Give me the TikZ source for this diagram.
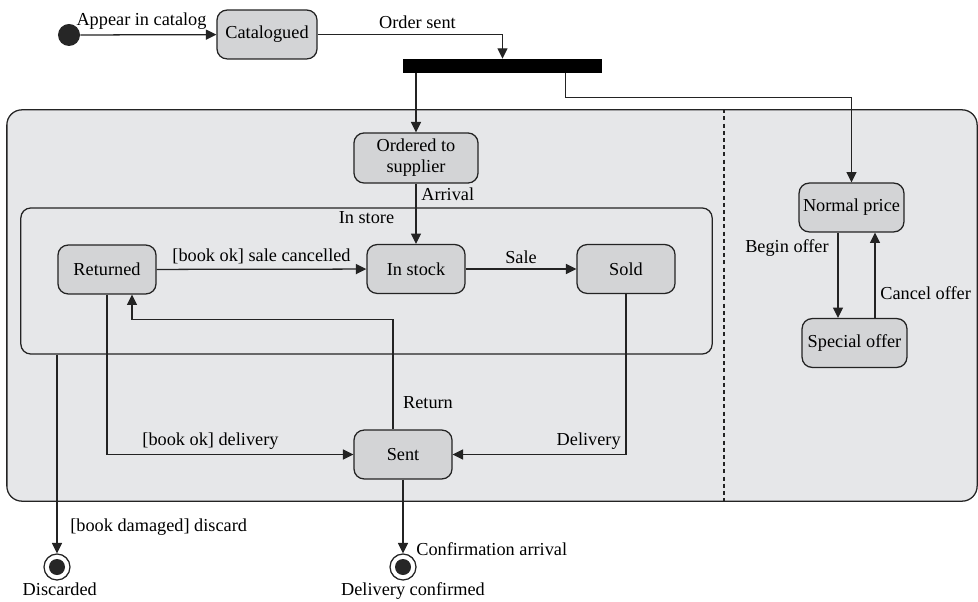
\documentclass[tikz,border=0pt]{standalone}
\usepackage{fontspec}
\setmainfont{Liberation Serif}
\usepackage{xcolor}
\usepackage{tikz}
\usetikzlibrary{arrows.meta, positioning, calc}

\definecolor{statefill}{RGB}{211,212,214}
\definecolor{regionfill}{RGB}{230,231,233}
\definecolor{linegray}{RGB}{35,35,35}

\begin{document}
\begin{tikzpicture}[
        x=0.025cm, y=-0.025cm,
        font=\fontsize{13}{15}\selectfont,
        state/.style={rectangle, rounded corners=0.25cm, draw=linegray, line width=0.9pt, fill=statefill, minimum width=2.45cm, minimum height=1.22cm, inner sep=1pt, align=center},
        region/.style={rectangle, draw=linegray, line width=0.9pt, inner sep=0pt},
        trans/.style={-{Triangle[length=2.6mm, width=2.5mm]}, draw=linegray, line width=0.9pt},
        initial/.style={circle, fill=black!85, minimum size=0.55cm, inner sep=0pt},
        final/.style={circle, draw=linegray, line width=0.9pt, fill=white, minimum size=0.65cm, inner sep=0pt,
            path picture={\fill[black!85] (path picture bounding box.center) circle (0.2cm);}},
        forkbar/.style={rectangle, fill=black, minimum width=4.98cm, minimum height=0.35cm, inner sep=0pt}
    ]
        \useasboundingbox (0,0) rectangle (978,602);

        % Regions
        \node[region, fill=regionfill, rounded corners=0.375cm, minimum width=24.25cm, minimum height=9.78cm] (order) at (492,305.5) {};
        \node[region, rounded corners=0.25cm, minimum width=17.28cm, minimum height=3.65cm,
            label={[anchor=north, inner sep=3pt]north:In store}] (store) at (366.5,281) {};
        \coordinate (split) at (724,0);
        \draw[linegray, line width=0.9pt, dash pattern=on 1mm off 0.8mm] (order.north -| split) -- (order.south -| split);

        % States
        \node[initial] (init) at (69,35) {};
        \node[state, minimum width=2.5cm] (cat) at (267,34.5) {Catalogued};
        \node[forkbar] (fork) at (502.5,66) {};
        \node[state, minimum width=3.1cm, minimum height=1.25cm] (ord) at (416,158) {Ordered to\\supplier};
        \node[state] (ret) at (107,269.5) {Returned};
        \node[state] (stock) at (416,269) {In stock};
        \node[state] (sold) at (626,269) {Sold};
        \node[state] (sent) at (403,454.5) {Sent};
        \node[state, minimum width=2.62cm] (norm) at (851.5,207.5) {Normal price};
        \node[state, minimum width=2.62cm] (spec) at (854.5,343) {Special offer};
        \node[final] (disc) at (57,567) {};
        \node[final] (conf) at (403,567) {};
        \node[below=0pt of disc, inner sep=1pt, xshift=0.07cm] (disclbl) {Discarded};
        \node[below=0pt of conf, inner sep=1pt, xshift=0.25cm] (conflbl) {Delivery confirmed};

        % Transitions
        \draw[trans] (init) -- node[pos=0.45, above] {Appear in catalog} (cat);
        \draw[trans] (cat) -| node[pos=0.27, above] {Order sent} (fork);
        \draw[trans] (fork.south -| ord.north) -- (ord);
        \draw[trans] ($(fork.south east)+(-37,0)$) |- ($(norm.north)+(0,-85)$) -- (norm);
        \draw[trans] (ord) -- node[pos=0.18, right] {Arrival} (stock);
        \draw[trans] (ret) -- node[above] {[book ok] sale cancelled} (stock);
        \draw[trans] (stock) -- node[above] {Sale} (sold);
        \draw[trans] (ret) |- node[pos=0.71, above] {[book ok] delivery} (sent);
        \draw[trans] (sold) |- node[pos=0.5, above left] {Delivery} (sent);
        \draw[trans] ($(sent.north)+(-10,0)$) |- node[pos=0.12, right, xshift=0.12cm] {Return} ($(ret.south)+(25,25)$) -- ($(ret.south)+(25,0)$);
        \draw[trans] (store.south -| disc) -- node[pos=0.87, right, xshift=0.2cm] {[book damaged] discard} (disc);
        \draw[trans] (sent) -- node[pos=0.94, right, xshift=0.2cm] {Confirmation arrival} (conf);

        % Price states
        \coordinate (bo) at (838,0);
        \coordinate (co) at (875,0);
        \draw[trans] (norm.south -| bo) -- node[pos=0.18, left, xshift=-0.1cm] {Begin offer} (spec.north -| bo);
        \draw[trans] (spec.north -| co) -- node[pos=0.29, right] {Cancel offer} (norm.south -| co);

    \end{tikzpicture}
\end{document}
